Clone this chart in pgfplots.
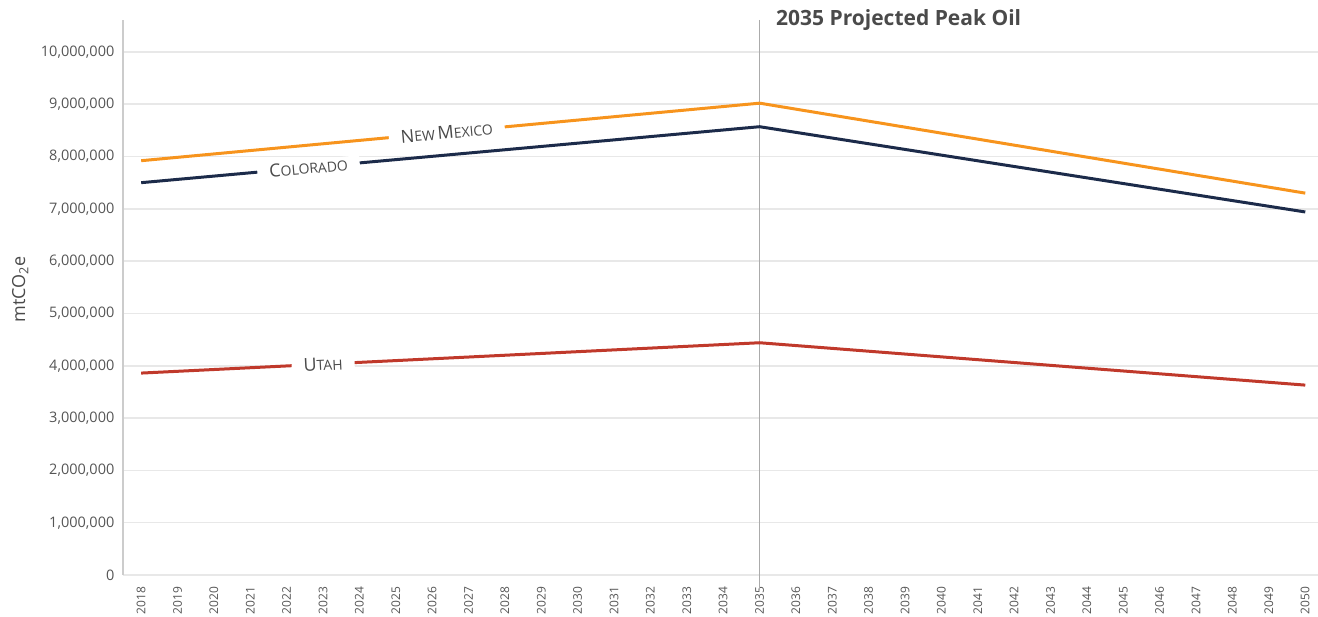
\documentclass[border=0pt]{standalone}
\usepackage{pgfplots}
\pgfplotsset{compat=1.18}
\usepackage{fontspec}
\setmainfont{Open Sans}
\definecolor{nm}{HTML}{F7941D}
\definecolor{co}{HTML}{1C2B4A}
\definecolor{ut}{HTML}{C0392B}
\definecolor{gridc}{HTML}{E8E8E8}
\definecolor{axisc}{HTML}{CCCCCC}
\definecolor{tickc}{HTML}{555555}
\definecolor{vlc}{HTML}{ABABAB}
\definecolor{labc}{HTML}{4A4A4A}
\newcommand{\lb}[1]{{\fontsize{18bp}{18bp}\selectfont #1}}
\newcommand{\ls}[1]{{\fontsize{14bp}{14bp}\selectfont #1}}
\begin{document}
\begin{tikzpicture}
\useasboundingbox (-123bp,-42bp) rectangle (1195bp,575bp);
\begin{axis}[
  anchor=south west, at={(0,0)},
  scale only axis, width=1195bp, height=555bp,
  xmin=2017.5, xmax=2050.35, ymin=0, ymax=10610000,
  axis x line=bottom, axis y line=left,
  x axis line style={-, draw=gridc, line width=1.5bp},
  y axis line style={-, draw=axisc, line width=1.5bp},
  tick style={draw=none},
  ymajorgrids, major grid style={draw=gridc, line width=1.5bp},
  ytick={0,1000000,2000000,3000000,4000000,5000000,6000000,7000000,8000000,9000000,10000000},
  scaled y ticks=false,
  /pgf/number format/assume math mode=true,
  yticklabel style={/pgf/number format/fixed, /pgf/number format/1000 sep={,}, font=\fontsize{14.5bp}{16bp}\selectfont, color=tickc},
  yticklabel shift=3bp,
  xtick={2018,2019,...,2050},
  xticklabel style={rotate=90, anchor=east, /pgf/number format/1000 sep={}, font=\fontsize{12bp}{13bp}\selectfont, color=tickc},
  xticklabel shift=6bp,
  clip=false,
  ylabel={mtCO\textsubscript{2}e},
  ylabel style={at={(rel axis cs:-0.086,0.514)}, anchor=center, font=\fontsize{18bp}{18bp}\selectfont, color=labc},
]
\draw[vlc, line width=1.2bp] (axis cs:2035,10610000) -- ([yshift=-15bp]axis cs:2035,0);
\addplot[nm, line width=3bp] coordinates {(2018,7920000) (2035,9020000) (2050,7300000)};
\addplot[co, line width=3bp] coordinates {(2018,7500000) (2035,8570000) (2050,6940000)};
\addplot[ut, line width=3bp] coordinates {(2018,3860000) (2035,4440000) (2050,3630000)};
\node[rotate=5.3, fill=white, inner xsep=12bp, inner ysep=1bp, text=labc] at (axis cs:2026.4,8460000) {\lb{N}\ls{EW} \lb{M}\ls{EXICO}};
\node[rotate=5.2, fill=white, inner xsep=12bp, inner ysep=1bp, text=labc] at (axis cs:2022.6,7790000) {\lb{C}\ls{OLORADO}};
\node[rotate=2.8, fill=white, inner xsep=12bp, inner ysep=1bp, text=labc] at (axis cs:2023.0,4030000) {\lb{U}\ls{TAH}};
\node[anchor=base west, inner sep=0pt, text=labc, font=\bfseries\fontsize{21bp}{21bp}\selectfont] at (axis cs:2035.45,10500000) {2035 Projected Peak Oil};
\end{axis}
\end{tikzpicture}
\end{document}
